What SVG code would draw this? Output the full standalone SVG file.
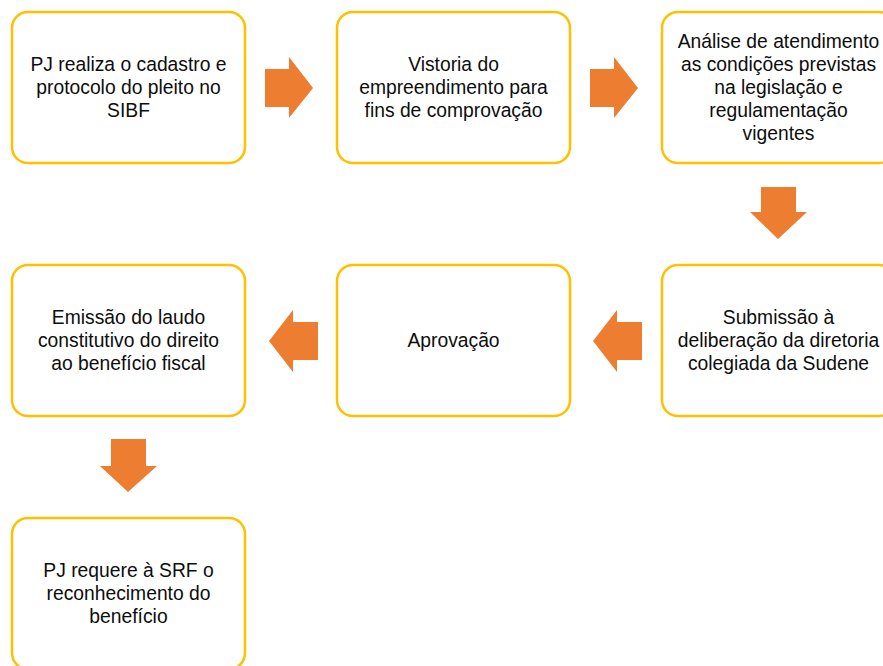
<svg xmlns="http://www.w3.org/2000/svg" width="883" height="666" viewBox="0 0 883 666">
<style>
.box{fill:#fff;stroke:#FFC000;stroke-width:2.5}
.t{font-family:"Liberation Sans",Arial,sans-serif;font-size:19.3px;fill:#0d0d0d;text-anchor:middle}
.arr{fill:#ED7D31}
</style>
<rect width="883" height="666" fill="#fff"/>
<g id="connectors">
<polygon class="arr" points="265,69 289,69 289,57 313,88 289,118 289,107 265,107"/>
<polygon class="arr" points="590,69 614,69 614,57 638,88 614,118 614,107 590,107"/>
<polygon class="arr" points="761,187 796,187 796,212 807,212 778,239 750,212 761,212"/>
<polygon class="arr" points="642,322 617,322 617,310 593,341 617,372 617,360 642,360"/>
<polygon class="arr" points="318,322 293,322 293,310 269,341 293,372 293,360 318,360"/>
<polygon class="arr" points="111,439 146,439 146,466 157,466 128,492 100,466 111,466"/>
</g>
<g id="n1"><rect class="box" x="12" y="12" width="233" height="151" rx="16"/>
<text class="t" x="128.5" y="71">PJ realiza o cadastro e</text>
<text class="t" x="128.5" y="94">protocolo do pleito no</text>
<text class="t" x="128.5" y="117">SIBF</text></g>
<g id="n2"><rect class="box" x="337" y="12" width="233" height="151" rx="16"/>
<text class="t" x="453.5" y="71">Vistoria do</text>
<text class="t" x="453.5" y="94">empreendimento para</text>
<text class="t" x="453.5" y="117">fins de comprovação</text></g>
<g id="n3"><rect class="box" x="662" y="12" width="233" height="151" rx="16"/>
<text class="t" x="778.5" y="48">Análise de atendimento</text>
<text class="t" x="778.5" y="71">as condições previstas</text>
<text class="t" x="778.5" y="94">na legislação e</text>
<text class="t" x="778.5" y="117">regulamentação</text>
<text class="t" x="778.5" y="140">vigentes</text></g>
<g id="n4"><rect class="box" x="662" y="265" width="233" height="151" rx="16"/>
<text class="t" x="778.5" y="324">Submissão à</text>
<text class="t" x="778.5" y="347">deliberação da diretoria</text>
<text class="t" x="778.5" y="370">colegiada da Sudene</text></g>
<g id="n5"><rect class="box" x="337" y="265" width="233" height="151" rx="16"/>
<text class="t" x="453.5" y="347">Aprovação</text></g>
<g id="n6"><rect class="box" x="12" y="265" width="233" height="151" rx="16"/>
<text class="t" x="128.5" y="324">Emissão do laudo</text>
<text class="t" x="128.5" y="347">constitutivo do direito</text>
<text class="t" x="128.5" y="370">ao benefício fiscal</text></g>
<g id="n7"><rect class="box" x="12" y="518" width="233" height="151" rx="16"/>
<text class="t" x="128.5" y="577">PJ requere à SRF o</text>
<text class="t" x="128.5" y="600">reconhecimento do</text>
<text class="t" x="128.5" y="623">benefício</text></g>
</svg>
